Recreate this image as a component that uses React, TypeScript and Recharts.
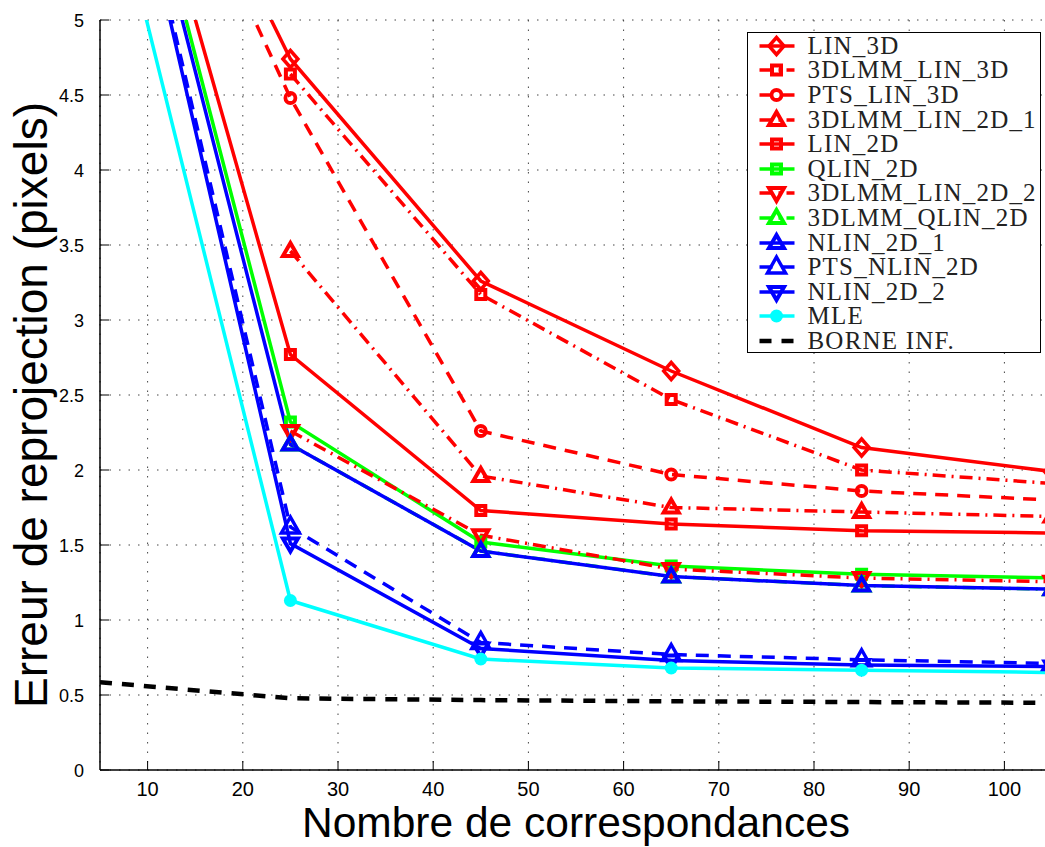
import React from 'react';
import { LineChart, Line, XAxis, YAxis, CartesianGrid, Legend } from 'recharts';

// number of correspondences (x) and reprojection error (pixels) per method
const counts = [5, 25, 45, 65, 85, 105];
const xTicks = [10, 20, 30, 40, 50, 60, 70, 80, 90, 100];
const yTicks = [0, 0.5, 1, 1.5, 2, 2.5, 3, 3.5, 4, 4.5, 5];

const lin3d = [7.32, 4.74, 3.26, 2.66, 2.15, 1.99];
const lmmLin3d = [null, 4.64, 3.17, 2.47, 2.0, 1.91];
const ptsLin3d = [7.23, 4.48, 2.26, 1.97, 1.86, 1.8];
const lmmLin2d1 = [null, 3.46, 1.96, 1.75, 1.72, 1.69];
const lin2d = [7.24, 2.77, 1.73, 1.64, 1.595, 1.58];
const qlin2d = [7.21, 2.32, 1.52, 1.36, 1.305, 1.28];
const lmmLin2d2 = [null, 2.26, 1.565, 1.34, 1.28, 1.255];
const lmmQlin2d = [null, 2.17, 1.46, 1.29, 1.23, 1.205];
const nlin2d1 = [7.15, 2.17, 1.46, 1.29, 1.23, 1.205];
const ptsNlin2d = [7.06, 1.62, 0.85, 0.77, 0.735, 0.71];
const nlin2d2 = [7.03, 1.51, 0.81, 0.73, 0.7, 0.69];
const mle = [6.25, 1.13, 0.74, 0.68, 0.665, 0.65];
const borneInf = [0.585, 0.478, 0.466, 0.458, 0.453, 0.448];

const RED = '#ff0000';
const GREEN = '#00ff00';
const BLUE = '#0000ff';
const CYAN = '#00ffff';

const DASH = '13 9';
const DASHDOT = '13 6 2 6';

type Shape = 'diamond' | 'square' | 'circle' | 'triUp' | 'triUpOpen' | 'triDown' | 'dot' | 'none';

interface Serie {
  key: string;
  name: string;
  values: (number | null)[];
  color: string;
  dash?: string;
  shape: Shape;
}

const series: Serie[] = [
  { key: 'lin3d', name: 'LIN_3D', values: lin3d, color: RED, shape: 'diamond' },
  { key: 'lmmLin3d', name: '3DLMM_LIN_3D', values: lmmLin3d, color: RED, dash: DASHDOT, shape: 'square' },
  { key: 'ptsLin3d', name: 'PTS_LIN_3D', values: ptsLin3d, color: RED, dash: DASH, shape: 'circle' },
  { key: 'lmmLin2d1', name: '3DLMM_LIN_2D_1', values: lmmLin2d1, color: RED, dash: DASHDOT, shape: 'triUp' },
  { key: 'lin2d', name: 'LIN_2D', values: lin2d, color: RED, shape: 'square' },
  { key: 'qlin2d', name: 'QLIN_2D', values: qlin2d, color: GREEN, shape: 'square' },
  { key: 'lmmLin2d2', name: '3DLMM_LIN_2D_2', values: lmmLin2d2, color: RED, dash: DASHDOT, shape: 'triDown' },
  { key: 'lmmQlin2d', name: '3DLMM_QLIN_2D', values: lmmQlin2d, color: GREEN, dash: DASHDOT, shape: 'triUp' },
  { key: 'nlin2d1', name: 'NLIN_2D_1', values: nlin2d1, color: BLUE, shape: 'triUp' },
  { key: 'ptsNlin2d', name: 'PTS_NLIN_2D', values: ptsNlin2d, color: BLUE, dash: DASH, shape: 'triUpOpen' },
  { key: 'nlin2d2', name: 'NLIN_2D_2', values: nlin2d2, color: BLUE, shape: 'triDown' },
  { key: 'mle', name: 'MLE', values: mle, color: CYAN, shape: 'dot' },
  { key: 'borne', name: 'BORNE INF.', values: borneInf, color: '#000', dash: '12 10', shape: 'none' },
];

const data = counts.map((x, i) => {
  const row: Record<string, number | null> = { x };
  series.forEach(s => { row[s.key] = s.values[i]; });
  return row;
});

const SANS = '"Liberation Sans", Arial, Helvetica, sans-serif';
const SERIF = '"Liberation Serif", "Times New Roman", serif';

function Marker({ shape, cx, cy, color }: { shape: Shape; cx: number; cy: number; color: string }) {
  const common = { fill: 'none', stroke: color, strokeWidth: 4, strokeLinejoin: 'miter' as const };
  switch (shape) {
    case 'diamond':
      return <path d={`M${cx},${cy - 8.5}L${cx + 7.5},${cy}L${cx},${cy + 8.5}L${cx - 7.5},${cy}Z`} {...common} strokeWidth={3.5} />;
    case 'square':
      return <rect x={cx - 4.5} y={cy - 4.5} width={9} height={9} {...common} />;
    case 'circle':
      return <circle cx={cx} cy={cy} r={5} {...common} strokeWidth={3.8} />;
    case 'triUp':
      return <path d={`M${cx},${cy - 8}L${cx + 7.5},${cy + 5}L${cx - 7.5},${cy + 5}Z`} {...common} />;
    case 'triUpOpen':
      return <path d={`M${cx},${cy - 10}L${cx + 9},${cy + 6}L${cx - 9},${cy + 6}Z`} {...common} strokeWidth={3.5} />;
    case 'triDown':
      return <path d={`M${cx},${cy + 8}L${cx + 7.5},${cy - 5}L${cx - 7.5},${cy - 5}Z`} {...common} />;
    case 'dot':
      return <circle cx={cx} cy={cy} r={6.5} fill={color} stroke="none" />;
    default:
      return <g />;
  }
}

const XTick = (props: any) => {
  const { x, y, payload } = props;
  return (
    <g>
      <line x1={x} x2={x} y1={y} y2={y - 9} stroke="#000" strokeWidth={1} />
      <text x={x} y={y + 26} textAnchor="middle" fontSize={20} fontFamily={SANS} fill="#000">
        {payload.value}
      </text>
    </g>
  );
};

const YTick = (props: any) => {
  const { x, y, payload } = props;
  return (
    <g>
      <line x1={x} x2={x + 9} y1={y} y2={y} stroke="#000" strokeWidth={1} />
      <text x={x - 16} y={y + 6.5} textAnchor="end" fontSize={18} fontFamily={SANS} fill="#000">
        {payload.value}
      </text>
    </g>
  );
};

const XTitle = (props: any) => {
  const vb = props.viewBox;
  return (
    <text x={vb.x + vb.width / 2} y={vb.y + 67} textAnchor="middle" fontSize={42.5} fontFamily={SANS} fill="#000">
      Nombre de correspondances
    </text>
  );
};

const YTitle = (props: any) => {
  const vb = props.viewBox;
  const cx = 47;
  const cy = vb.y + vb.height / 2 + 10;
  return (
    <text x={cx} y={cy} textAnchor="middle" fontSize={46} fontFamily={SANS} fill="#000" transform={`rotate(-90, ${cx}, ${cy})`}>
      Erreur de reprojection (pixels)
    </text>
  );
};

const LegendBox = () => (
  <div
    style={{
      width: 294,
      height: 321,
      border: '1.5px solid #000',
      background: '#fff',
      boxSizing: 'border-box',
      paddingTop: 0.5,
    }}
  >
    {series.map(s => (
      <div key={s.key} style={{ display: 'flex', alignItems: 'center', height: 24.6 }}>
        <svg width={59.5} height={24} style={{ flex: 'none', overflow: 'visible' }}>
          <line x1={11.5} x2={46.5} y1={12} y2={12} stroke={s.color} strokeWidth={s.key === 'borne' ? 4.5 : 3.5} strokeDasharray={s.dash} />
          <Marker shape={s.shape} cx={28.5} cy={12} color={s.color} />
        </svg>
        <span style={{ fontFamily: SERIF, fontSize: 25, letterSpacing: 1.2, color: '#222', whiteSpace: 'nowrap', lineHeight: '24px' }}>
          {s.name}
        </span>
      </div>
    ))}
  </div>
);

export default function App() {
  return (
    <div style={{ position: 'absolute', left: 0, top: 0, width: 1045, height: 847, overflow: 'hidden', background: '#fff' }}>
      <LineChart width={1060} height={847} data={data} margin={{ top: 20, right: 8, left: 0, bottom: 0 }}>
        <CartesianGrid stroke="#444" strokeDasharray="1.5 8" />
        <XAxis
          dataKey="x"
          type="number"
          domain={[5, 105]}
          allowDataOverflow
          ticks={xTicks}
          interval={0}
          height={77}
          tickLine={false}
          tickSize={0}
          tickMargin={0}
          tick={<XTick />}
          axisLine={{ stroke: '#000', strokeWidth: 1.5 }}
          label={<XTitle />}
        />
        <YAxis
          type="number"
          domain={[0, 5]}
          allowDataOverflow
          ticks={yTicks}
          interval={0}
          width={100}
          tickLine={false}
          tickSize={0}
          tickMargin={0}
          tick={<YTick />}
          axisLine={{ stroke: '#000', strokeWidth: 1.5 }}
          label={<YTitle />}
        />
        <Legend
          layout="vertical"
          align="center"
          verticalAlign="middle"
          content={<LegendBox />}
          wrapperStyle={{ position: 'absolute', left: 747, top: 32, width: 294, height: 321 }}
        />
        {series.map(s => (
          <Line
            key={s.key}
            type="linear"
            dataKey={s.key}
            name={s.name}
            stroke={s.color}
            strokeWidth={s.key === 'borne' ? 4.5 : 3.5}
            strokeDasharray={s.dash}
            isAnimationActive={false}
            activeDot={false}
            dot={(p: any) =>
              p.cx == null || p.cy == null || p.value == null ? (
                <g key={`${s.key}-${p.index}`} />
              ) : (
                <g key={`${s.key}-${p.index}`}>
                  <Marker shape={s.shape} cx={p.cx} cy={p.cy} color={s.color} />
                </g>
              )
            }
          />
        ))}
      </LineChart>
    </div>
  );
}
